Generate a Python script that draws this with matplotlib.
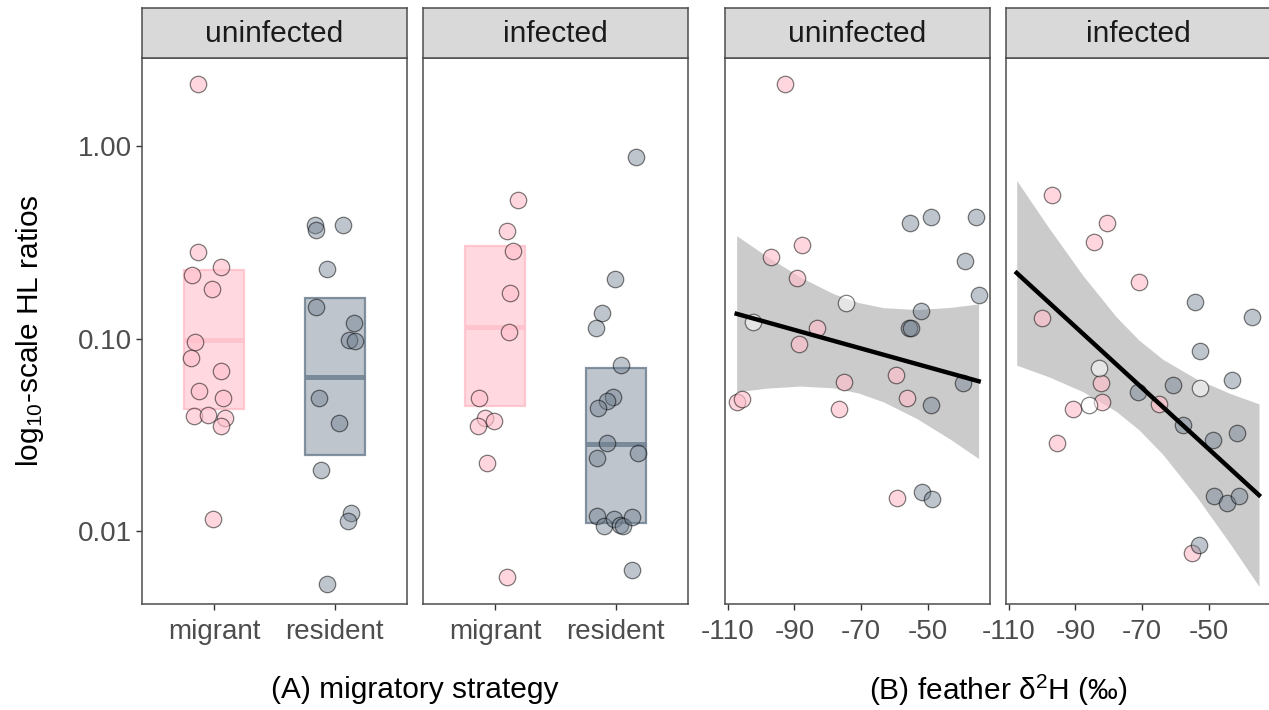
import matplotlib
matplotlib.use("Agg")
import matplotlib.pyplot as plt
from matplotlib.patches import Rectangle

plt.rcParams['font.family'] = ['Liberation Sans', 'DejaVu Sans']
plt.rcParams['mathtext.fontset'] = 'custom'
plt.rcParams['mathtext.rm'] = 'Liberation Sans'
plt.rcParams['mathtext.it'] = 'Liberation Sans:italic'

# ---- data ----
strategies = ["migrant", "resident"]
infection = ["uninfected", "infected"]

# (A) jitter offsets (category units) and HL ratios
a_uninf_mig_jit = [-0.137, -0.137, 0.055, -0.183, -0.019, -0.161, -0.194, 0.057, -0.125, 0.076, -0.170, -0.052, 0.090, 0.057, -0.008]
a_uninf_mig_hl = [2.12, 0.281, 0.237, 0.214, 0.182, 0.0958, 0.0794, 0.0681, 0.0537, 0.0489, 0.0396, 0.0402, 0.0385, 0.0351, 0.01155]
a_uninf_res_jit = [-0.164, -0.158, 0.068, -0.068, -0.156, 0.156, 0.120, 0.172, -0.129, 0.033, -0.112, 0.137, 0.109, -0.068]
a_uninf_res_hl = [0.389, 0.368, 0.391, 0.231, 0.147, 0.121, 0.098, 0.0973, 0.0491, 0.0366, 0.0208, 0.0124, 0.01124, 0.00532]
a_inf_mig_jit = [0.186, 0.098, 0.150, 0.125, 0.117, -0.131, -0.088, -0.008, -0.142, -0.066, 0.098]
a_inf_mig_hl = [0.527, 0.364, 0.286, 0.1725, 0.109, 0.0491, 0.0385, 0.0375, 0.0351, 0.0225, 0.00574]
a_inf_res_jit = [0.170, -0.008, -0.115, -0.161, 0.047, -0.022, -0.076, -0.150, -0.071, -0.158, 0.189, -0.156, -0.101, -0.011, 0.035, 0.060, 0.131, 0.131]
a_inf_res_hl = [0.885, 0.205, 0.136, 0.113, 0.0731, 0.0499, 0.0476, 0.0435, 0.0286, 0.0239, 0.0254, 0.0120, 0.0106, 0.0115, 0.0108, 0.0106, 0.0118, 0.00627]

# crossbars: low, middle, high
box_uninf_mig = [0.0429, 0.0986, 0.229]
box_uninf_res = [0.0247, 0.0630, 0.162]
box_inf_mig = [0.0444, 0.1155, 0.303]
box_inf_res = [0.0110, 0.0282, 0.0701]

# (B) feather d2H vs HL ratios
b_uninf_mig_d2h = [-92.9, -87.8, -97.0, -89.3, -83.2, -88.5, -75.1, -59.6, -56.2, -76.5, -107.3, -105.6, -59.4]
b_uninf_mig_hl = [2.12, 0.309, 0.267, 0.206, 0.113, 0.0935, 0.0593, 0.0645, 0.0491, 0.0429, 0.0471, 0.0484, 0.0149]
b_uninf_unk_d2h = [-102.4, -74.6]
b_uninf_unk_hl = [0.122, 0.153]
b_uninf_res_d2h = [-55.3, -49.0, -35.7, -38.8, -34.8, -52.2, -55.8, -55.0, -39.6, -49.1, -51.8, -48.8]
b_uninf_res_hl = [0.400, 0.427, 0.427, 0.255, 0.168, 0.140, 0.114, 0.114, 0.0590, 0.0450, 0.0160, 0.0147]

b_inf_mig_d2h = [-97.0, -80.5, -84.5, -71.1, -100.0, -82.3, -82.0, -90.8, -65.0, -95.5, -55.0]
b_inf_mig_hl = [0.560, 0.398, 0.318, 0.197, 0.1285, 0.0586, 0.0466, 0.0429, 0.0460, 0.0286, 0.00769]
b_inf_unk_d2h = [-82.8, -86.0, -52.8]
b_inf_unk_hl = [0.0707, 0.0450, 0.0552]
b_inf_res_d2h = [-54.3, -37.0, -52.8, -43.0, -71.3, -60.8, -57.8, -48.7, -41.7, -48.6, -44.5, -40.9, -53.0]
b_inf_res_hl = [0.155, 0.130, 0.0865, 0.0609, 0.0530, 0.0573, 0.0356, 0.0298, 0.0324, 0.0152, 0.0140, 0.0152, 0.00845]

# fitted lines and confidence bands
fit_uninf_x = [-107.3, -34.8]
fit_uninf_y = [0.1347, 0.0601]
band_uninf_x = [-107.31, -98.31, -88.31, -78.31, -70.81, -63.31, -53.31, -43.31, -34.81]
band_uninf_lo = [0.0529, 0.0553, 0.0567, 0.0555, 0.0522, 0.0469, 0.0384, 0.0300, 0.0238]
band_uninf_hi = [0.3433, 0.2685, 0.2095, 0.1714, 0.1542, 0.1450, 0.1418, 0.1455, 0.1517]

fit_inf_x = [-107.6, -35.0]
fit_inf_y = [0.2198, 0.01536]
band_inf_x = [-107.59, -97.79, -87.79, -77.79, -70.99, -63.79, -53.79, -43.79, -34.99]
band_inf_lo = [0.07282, 0.06319, 0.05305, 0.04189, 0.03362, 0.02498, 0.01515, 0.00865, 0.00515]
band_inf_hi = [0.6647, 0.3736, 0.2137, 0.1301, 0.09840, 0.07809, 0.06184, 0.05202, 0.04579]

# ---- styling ----
PINK = (1.0, 0.753, 0.796)
SLATE = (0.439, 0.502, 0.565)
PT_EDGE = (0, 0, 0, 0.5)
YLIM = (0.00417, 2.884)
W, H = 1269, 710

fig = plt.figure(figsize=(W / 100, H / 100), dpi=100)


def px_axes(x0, y0, x1, y1):
    return fig.add_axes([x0 / W, 1 - y1 / H, (x1 - x0) / W, (y1 - y0) / H])


def style_panel(ax, show_y):
    for s in ax.spines.values():
        s.set_color('#4d4d4d')
        s.set_linewidth(1.1)
    ax.set_yscale('log')
    ax.set_ylim(*YLIM)
    ax.minorticks_off()
    ax.tick_params(axis='both', length=4.3, width=1, color='#333333',
                   labelsize=20, labelcolor='#4d4d4d', pad=3)
    ax.tick_params(axis='x', pad=6.5)
    if show_y:
        ax.set_yticks([0.01, 0.1, 1.0])
        ax.set_yticklabels(["0.01", "0.10", "1.00"])
    else:
        ax.set_yticks([])


def add_strip(x0, x1, label):
    sax = px_axes(x0, 8, x1, 58)
    sax.set_facecolor('#d9d9d9')
    sax.set_xticks([])
    sax.set_yticks([])
    for s in sax.spines.values():
        s.set_color('#4d4d4d')
        s.set_linewidth(1.1)
    sax.text(0.5, 0.47, label, ha='center', va='center', fontsize=21.5,
             color='#1a1a1a', transform=sax.transAxes)


def crossbar(ax, xc, stats, color, fill_alpha):
    lo, mid, hi = stats
    ax.add_patch(Rectangle((xc - 0.25, lo), 0.5, hi - lo,
                           facecolor=color + (fill_alpha,), edgecolor='none', zorder=1))
    ax.add_patch(Rectangle((xc - 0.25, lo), 0.5, hi - lo, facecolor='none',
                           edgecolor=color + (0.85,), linewidth=1.6, zorder=2))
    ax.plot([xc - 0.25, xc + 0.25], [mid, mid], color=color + (0.85,),
            linewidth=3.6, solid_capstyle='butt', zorder=2)


def points(ax, x, y, fill):
    ax.scatter(x, y, s=140, c=[fill], edgecolors=[PT_EDGE], linewidths=0.9, zorder=3)


panel_x = [(142, 407), (423, 688), (725, 990), (1006, 1271)]

# (A) panels
a_data = [
    (a_uninf_mig_jit, a_uninf_mig_hl, a_uninf_res_jit, a_uninf_res_hl, box_uninf_mig, box_uninf_res),
    (a_inf_mig_jit, a_inf_mig_hl, a_inf_res_jit, a_inf_res_hl, box_inf_mig, box_inf_res),
]
for i, (mj, mh, rj, rh, bm, br) in enumerate(a_data):
    x0, x1 = panel_x[i]
    ax = px_axes(x0, 58, x1, 604)
    crossbar(ax, 0, bm, PINK, 0.6)
    crossbar(ax, 1, br, SLATE, 0.45)
    points(ax, [0 + j for j in mj], mh, PINK + (0.65,))
    points(ax, [1 + j for j in rj], rh, SLATE + (0.45,))
    ax.set_xlim(-0.6, 1.6)
    ax.set_xticks([0, 1])
    ax.set_xticklabels(strategies)
    style_panel(ax, show_y=(i == 0))
    add_strip(x0, x1, infection[i])

# (B) panels
b_data = [
    (b_uninf_mig_d2h, b_uninf_mig_hl, b_uninf_unk_d2h, b_uninf_unk_hl, b_uninf_res_d2h, b_uninf_res_hl,
     fit_uninf_x, fit_uninf_y, band_uninf_x, band_uninf_lo, band_uninf_hi),
    (b_inf_mig_d2h, b_inf_mig_hl, b_inf_unk_d2h, b_inf_unk_hl, b_inf_res_d2h, b_inf_res_hl,
     fit_inf_x, fit_inf_y, band_inf_x, band_inf_lo, band_inf_hi),
]
for i, (mx, my, ux, uy, rx, ry, fx, fy, bx, blo, bhi) in enumerate(b_data):
    x0, x1 = panel_x[i + 2]
    ax = px_axes(x0, 58, x1, 604)
    ax.fill_between(bx, blo, bhi, color='#999999', alpha=0.5, linewidth=0, zorder=2)
    points(ax, mx, my, PINK + (0.65,))
    points(ax, ux, uy, (1, 1, 1, 0.5))
    points(ax, rx, ry, SLATE + (0.45,))
    ax.plot(fx, fy, color='black', linewidth=3.2, zorder=5)
    ax.set_xlim(-110.8, -31.4)
    ax.set_xticks([-110, -90, -70, -50])
    ax.set_xticklabels(["-110", "-90", "-70", "-50"])
    style_panel(ax, show_y=False)
    add_strip(x0, x1, infection[i])

fig.text(415 / W, 1 - 690 / H, "(A) migratory strategy", ha='center', va='center',
         fontsize=21.5, color='black')
fig.text(998 / W, 1 - 690 / H, r"(B) feather $\mathregular{\delta^{2}}$H (‰)", ha='center', va='center',
         fontsize=21.5, color='black')
fig.text(30 / W, 1 - 331 / H, r"log$_{\mathregular{10}}$-scale HL ratios", ha='center', va='center',
         rotation=90, fontsize=21.5, color='black')

fig.savefig("out.png", dpi=100)
